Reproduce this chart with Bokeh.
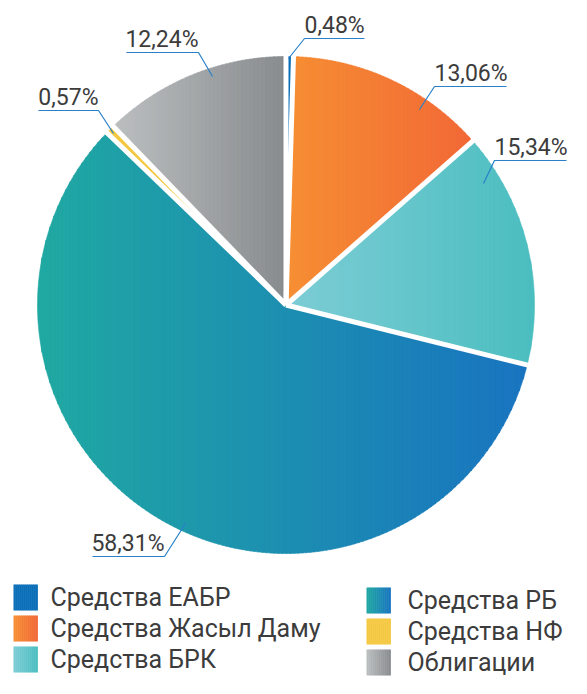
import math
from bokeh.plotting import figure
from bokeh.models import Range1d
from bokeh.core.properties import value
from bokeh.embed import file_html
from bokeh.resources import INLINE

# ---------------- data ----------------
categories = ["Средства ЕАБР", "Средства Жасыл Даму", "Средства БРК",
              "Средства РБ", "Средства НФ", "Облигации"]
shares = [0.48, 13.06, 15.34, 58.31, 0.57, 12.24]
labels = ["0,48%", "13,06%", "15,34%", "58,31%", "0,57%", "12,24%"]

# ---------------- styles ----------------
grad_left = ["#0a6fb8", "#f68f33", "#7dcdd5", "#20a9a2", "#f4c842", "#bcbfc0"]
grad_right = ["#0a6fb8", "#f26836", "#4bbec0", "#1974c0", "#f4c842", "#888c8e"]
TEXT_COLOR = "#3c3c3c"
LEADER_COLOR = "#2a80c8"
FONT = value("Roboto")

# layout (pixel space of the figure, y downwards)
CX, CY, R = 285.5, 304.5, 248.5
label_elbow = [(304, 38), (434, 86), (494, 160), (164, 556), (98, 110), (198, 52)]
label_inner = [(288, 58), (419, 109), (483, 183), (185, 523), (113, 133), (212, 76)]
label_side = ["right", "right", "right", "left", "left", "left"]
legend_cols = [(13, 50, 597), (366, 407, 600)]
legend_row_step = 31

W, H = 571, 678
p = figure(width=W, height=H, output_backend="svg", toolbar_location=None,
           x_range=Range1d(0, W), y_range=Range1d(-H, 0),
           min_border=0, outline_line_color=None)
p.axis.visible = False
p.grid.visible = False
p.background_fill_color = "white"
p.border_fill_color = "white"


def Y(v):
    return -v


def hex2rgb(h):
    h = h.lstrip("#")
    return tuple(int(h[i:i + 2], 16) for i in (0, 2, 4))


def mix(c0, c1, t):
    a, b = hex2rgb(c0), hex2rgb(c1)
    return "#%02x%02x%02x" % tuple(int(round(a[i] + (b[i] - a[i]) * t)) for i in range(3))


def clip_x(poly, xv, keep_greater):
    out = []
    n = len(poly)
    for i in range(n):
        P, Q = poly[i], poly[(i + 1) % n]
        pin = (P[0] >= xv) if keep_greater else (P[0] <= xv)
        qin = (Q[0] >= xv) if keep_greater else (Q[0] <= xv)
        if pin:
            out.append(P)
        if pin != qin:
            t = (xv - P[0]) / (Q[0] - P[0])
            out.append((xv, P[1] + t * (Q[1] - P[1])))
    return out


def pt(angle_deg, r):
    a = math.radians(angle_deg)
    return (CX + r * math.sin(a), CY - r * math.cos(a))


# ---------------- slices with horizontal gradient ----------------
total = sum(shares)
bounds = [0.0]
for s in shares:
    bounds.append(bounds[-1] + s / total * 360.0)

xs_all, ys_all, cols_all = [], [], []
for i in range(len(shares)):
    a0, a1 = bounds[i], bounds[i + 1]
    steps = max(4, int((a1 - a0) * 2))
    poly = [(CX, CY)] + [pt(a0 + (a1 - a0) * k / steps, R) for k in range(steps + 1)]
    xmin = min(q[0] for q in poly)
    xmax = max(q[0] for q in poly)
    nstrip = max(1, int((xmax - xmin) / 4))
    w = (xmax - xmin) / nstrip
    for k in range(nstrip):
        xa, xb = xmin + k * w, xmin + (k + 1) * w + 0.6
        piece = clip_x(clip_x(poly, xa, True), xb, False)
        if len(piece) < 3:
            continue
        xs_all.append([q[0] for q in piece])
        ys_all.append([Y(q[1]) for q in piece])
        cols_all.append(mix(grad_left[i], grad_right[i], (k + 0.5) / nstrip))

p.patches(xs_all, ys_all, fill_color=cols_all, line_color=cols_all, line_width=0.6)

# white separators
for b in bounds[:-1]:
    x1, y1 = pt(b, R + 4)
    p.segment(x0=[CX], y0=[Y(CY)], x1=[x1], y1=[Y(y1)], line_color="white", line_width=5)

# ---------------- labels with leader lines ----------------
for i, lab in enumerate(labels):
    ex, ey = label_elbow[i]
    ix, iy = label_inner[i]
    length = 12.0 * len(lab)
    if label_side[i] == "right":
        ux = ex + length
        align = "left"
    else:
        ux = ex - length
        align = "right"
    p.line([ix, ex, ux], [Y(iy), Y(ey), Y(ey)], line_color=LEADER_COLOR, line_width=1.2)
    p.text(x=[ex], y=[Y(ey - 13)], text=[lab], text_font=FONT, text_font_size="23px",
           text_color=TEXT_COLOR, text_align=align, text_baseline="middle")

# ---------------- legend ----------------
for i, cat in enumerate(categories):
    col = i // 3
    row = i % 3
    sx, tx, y0 = legend_cols[col]
    yc = y0 + row * legend_row_step
    nst = 12
    sw = 24.0
    for k in range(nst):
        xa = sx + k * sw / nst
        p.quad(left=[xa], right=[xa + sw / nst + 0.4], top=[Y(yc - 13)], bottom=[Y(yc + 13)],
               fill_color=mix(grad_left[i], grad_right[i], (k + 0.5) / nst), line_color=None)
    p.text(x=[tx], y=[Y(yc)], text=[cat], text_font=FONT, text_font_size="25px",
           text_color=TEXT_COLOR, text_align="left", text_baseline="middle")

open("out.html", "w").write(file_html(p, INLINE))
